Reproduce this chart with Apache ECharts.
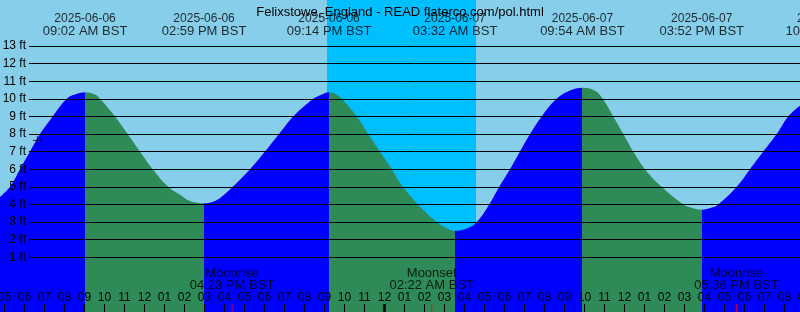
<!DOCTYPE html>
<html><head><meta charset="utf-8">
<script src="https://cdn.jsdelivr.net/npm/echarts@6/dist/echarts.min.js"></script>
<style>html,body{margin:0;padding:0;background:#87CEEB}#c{width:800px;height:312px}</style>
</head><body><div id="c"></div>
<script>
const titleText = 'Felixstowe, England - READ flaterco.com/pol.html';
// times: hours since 2025-06-06 00:00 BST ; heights: feet
const curveTimes = [4.78, 5.28, 5.78, 6.28, 6.78, 7.415, 8.115, 8.53, 9.033, 9.53, 9.78, 10.53, 11.165, 11.78, 12.415, 13.195, 13.78, 14.28, 14.983, 15.53, 16.03, 16.415, 17.28, 18.03, 18.73, 19.445, 20.445, 20.83, 21.233, 21.63, 21.865, 22.615, 23.195, 23.78, 24.365, 24.93, 25.68, 26.615, 27.13, 27.533, 28.13, 28.615, 29.245, 29.745, 30.28, 30.78, 31.28, 31.865, 32.615, 33.28, 33.9, 34.53, 34.915, 35.445, 35.945, 36.445, 37.03, 37.865, 38.945, 39.28, 39.867, 40.38, 40.695, 41.615, 42.28, 42.945, 43.615, 44.195, 44.78];
const curveHeights = [4.42, 5.0, 6.0, 7.0, 8.0, 9.0, 10.0, 10.24, 10.37, 10.24, 10.0, 9.0, 8.0, 7.0, 6.0, 5.0, 4.55, 4.2, 4.07, 4.2, 4.6, 5.0, 6.0, 7.0, 8.0, 9.0, 10.0, 10.22, 10.37, 10.22, 10.0, 9.0, 8.0, 7.0, 6.0, 5.0, 4.0, 3.0, 2.65, 2.5, 2.63, 3.0, 4.0, 5.0, 6.0, 7.0, 8.0, 9.0, 10.0, 10.47, 10.63, 10.46, 10.0, 9.0, 8.0, 7.0, 6.0, 5.0, 4.0, 3.84, 3.7, 3.82, 4.0, 5.0, 6.0, 7.0, 8.0, 9.0, 9.6];
const tideTimes = [9.033, 14.983, 21.233, 27.533, 33.9, 39.867, 46.167];
const tideDates = ['2025-06-06', '2025-06-06', '2025-06-06', '2025-06-07', '2025-06-07', '2025-06-07', '2025-06-07'];
const tideClock = ['09:02 AM BST', '02:59 PM BST', '09:14 PM BST', '03:32 AM BST', '09:54 AM BST', '03:52 PM BST', '10:10 PM BST'];
const moonTimes = [16.383, 26.367, 41.6];
const moonNames = ['Moonrise', 'Moonset', 'Moonrise'];
const moonClock = ['04:23 PM BST', '02:22 AM BST', '05:36 PM BST'];
const nightStart = 21.13, nightEnd = 28.58;
const midnights = [24];
const nowPoint = [6.645, 7.64];

const X_MIN = 4, X_MAX = 45, Y_MIN = -2.107, Y_MAX = 15.61;
const BLUE = '#0000FF', GREEN = '#2E8B57';

const curve = curveTimes.map((t, i) => [t, curveHeights[i]]);
// rising (blue) before each high, falling (green) before each low
const pieces = [];
let prev = -Infinity;
tideTimes.forEach((t, i) => {
  const rising = (i % 2 === 0);
  const p = { lt: t, color: rising ? BLUE : GREEN };
  if (prev !== -Infinity) p.gte = prev;
  pieces.push(p);
  prev = t;
});
pieces.push({ gte: prev, color: GREEN });

const chart = echarts.init(document.getElementById('c'), null, { renderer: 'canvas' });
chart.setOption({
  animation: false,
  backgroundColor: '#87CEEB',
  textStyle: { fontFamily: 'Liberation Sans, Arial, sans-serif', color: '#000' },
  title: {
    text: titleText, left: 'center', top: 1,
    textStyle: { fontSize: 13, fontWeight: 'normal', color: '#000', fontFamily: 'Liberation Sans' }
  },
  grid: [
    { left: -15.6, right: -4.4, top: 0, bottom: 0, containLabel: false, outerBoundsMode: 'none' },
    { left: 29, right: 0, top: 46, bottom: 37.1, containLabel: false, outerBoundsMode: 'none' }
  ],
  xAxis: [
    {
      type: 'value', gridIndex: 0, min: X_MIN, max: X_MAX, interval: 1, z: 6, position: 'bottom',
      axisLine: { show: false, onZero: false },
      axisTick: { show: true, inside: true, length: 8, lineStyle: { color: '#000', width: 1 } },
      axisLabel: {
        show: true, inside: true, margin: 8, fontSize: 12, color: '#000', interval: 0,
        showMinLabel: true, showMaxLabel: true, hideOverlap: false,
        formatter: v => { const h = ((v % 24) + 24) % 24; const h12 = h % 12 === 0 ? 12 : h % 12; return String(h12).padStart(2, '0'); }
      },
      splitLine: { show: false }
    },
    { type: 'value', gridIndex: 1, min: 0, max: 1, show: false }
  ],
  yAxis: [
    { type: 'value', gridIndex: 0, min: Y_MIN, max: Y_MAX, show: false, splitLine: { show: false } },
    {
      type: 'value', gridIndex: 1, min: 0, max: 13, interval: 1, z: 5,
      axisLine: { show: false }, axisTick: { show: false },
      axisLabel: { show: true, margin: 3, fontSize: 12, color: '#000', showMinLabel: false, formatter: v => v + ' ft' },
      splitLine: { show: true, showMinLine: false, lineStyle: { color: '#000', width: 1 } }
    }
  ],
  visualMap: {
    type: 'piecewise', show: false, dimension: 0, seriesIndex: 0, pieces: pieces
  },
  series: [
    {
      type: 'line', xAxisIndex: 0, yAxisIndex: 0, data: curve, smooth: 0.4,
      showSymbol: false, symbol: 'none', z: 2, silent: true,
      lineStyle: { width: 0 },
      areaStyle: { opacity: 1, origin: 'start' },
      markArea: {
        silent: true, z: 1,
        itemStyle: { color: '#00BFFF', opacity: 1 },
        data: [[{ xAxis: nightStart }, { xAxis: nightEnd }]]
      }
    },
    {
      type: 'scatter', xAxisIndex: 0, yAxisIndex: 0, clip: false, z: 10, silent: true,
      symbolSize: 0,
      data: tideTimes.map(t => [t, Y_MAX]),
      label: {
        show: true, position: 'inside', offset: [0, 25], align: 'center', color: '#000',
        formatter: p => '{d|' + tideDates[p.dataIndex] + '}\n{t|' + tideClock[p.dataIndex] + '}',
        rich: {
          d: { fontSize: 12, lineHeight: 12, color: '#000', fontFamily: 'Liberation Sans', align: 'center' },
          t: { fontSize: 13, lineHeight: 12, color: '#000', fontFamily: 'Liberation Sans', align: 'center' }
        }
      }
    },
    {
      type: 'scatter', xAxisIndex: 0, yAxisIndex: 0, clip: false, z: 10, silent: true,
      symbolSize: 0,
      data: moonTimes.map(t => [t, Y_MIN]),
      label: {
        show: true, position: 'inside', offset: [0, -32.3], align: 'center', color: '#000',
        formatter: p => moonNames[p.dataIndex] + '\n' + moonClock[p.dataIndex],
        fontSize: 13, lineHeight: 12, fontFamily: 'Liberation Sans'
      }
    },
    {
      type: 'scatter', xAxisIndex: 0, yAxisIndex: 0, clip: false, z: 9, silent: true,
      symbol: 'rect', symbolSize: [1, 8], symbolOffset: [0, -4],
      itemStyle: { color: '#FF0000' },
      data: moonTimes.map(t => [t, Y_MIN])
    },
    {
      type: 'scatter', xAxisIndex: 0, yAxisIndex: 0, clip: false, z: 9, silent: true,
      symbol: 'rect', symbolSize: [3, 8], symbolOffset: [0, -4],
      itemStyle: { color: '#000' },
      data: midnights.map(t => [t, Y_MIN])
    },
    {
      type: 'scatter', xAxisIndex: 0, yAxisIndex: 0, clip: false, z: 9, silent: true,
      symbol: 'path://M0,5L10,5M5,0L5,10', symbolSize: 9,
      itemStyle: { color: 'none', borderColor: '#000', borderWidth: 1 },
      data: [nowPoint]
    }
  ]
});
</script></body></html>
